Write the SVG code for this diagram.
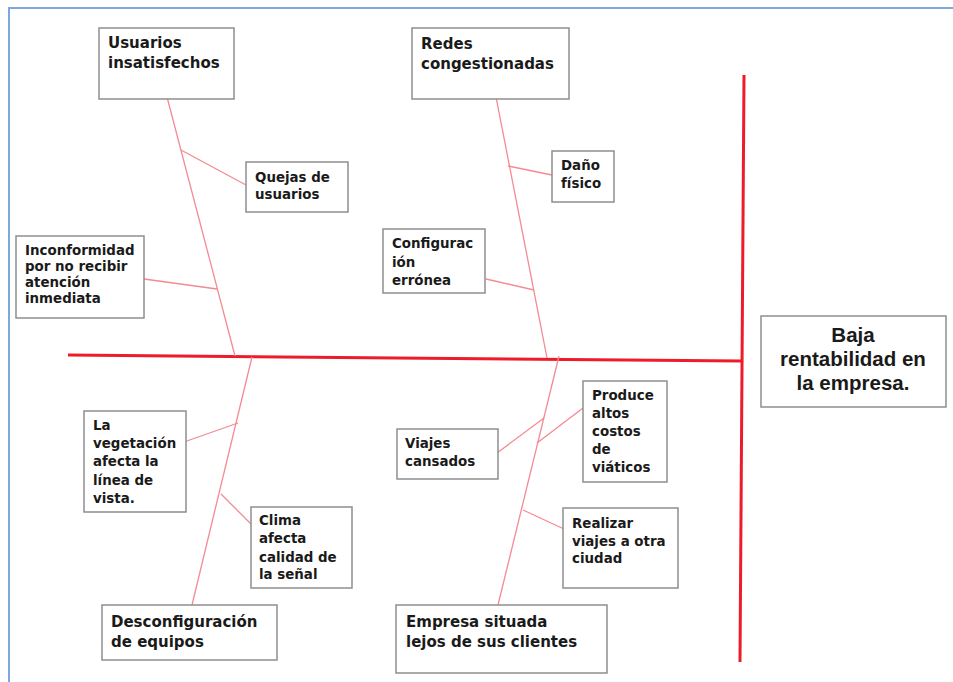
<svg xmlns="http://www.w3.org/2000/svg" width="953" height="682" viewBox="0 0 953 682">
  <style>
    .box { fill: #ffffff; stroke: #8e8e8e; stroke-width: 1.5; }
    .head { font-family: "DejaVu Sans", "Liberation Sans", sans-serif; font-weight: bold; font-size: 15px; fill: #1a1a1a; }
    .small { font-family: "DejaVu Sans", "Liberation Sans", sans-serif; font-weight: bold; font-size: 13.4px; fill: #1a1a1a; }
    .effect { font-family: "Liberation Sans", Arial, sans-serif; font-weight: bold; font-size: 20.5px; fill: #1a1a1a; }
    .spine { stroke: #ee1c2a; stroke-width: 3; fill: none; stroke-linecap: butt; }
    .bone { stroke: #f48a92; stroke-width: 1.3; fill: none; }
    .frame { stroke: #7aa8e2; stroke-width: 2; fill: none; }
  </style>

  <rect x="0" y="0" width="953" height="682" fill="#ffffff"/>

  <!-- page frame -->
  <path class="frame" d="M9,682 V8 H953"/>

  <!-- connectors: spine, head bar, bones and twigs -->
  <g id="connectors">
    <line class="spine" x1="68" y1="355" x2="742" y2="361"/>
    <line class="spine" x1="744" y1="75" x2="740" y2="662"/>

    <line class="bone" x1="167" y1="97" x2="235" y2="356"/>
    <line class="bone" x1="181" y1="150" x2="246" y2="185"/>
    <line class="bone" x1="144" y1="279" x2="217" y2="289"/>

    <line class="bone" x1="496" y1="97" x2="547" y2="358"/>
    <line class="bone" x1="508" y1="166" x2="552" y2="175"/>
    <line class="bone" x1="486" y1="279" x2="534" y2="290"/>

    <line class="bone" x1="252" y1="357" x2="192" y2="605"/>
    <line class="bone" x1="184" y1="442" x2="238" y2="423"/>
    <line class="bone" x1="221" y1="494" x2="251" y2="524"/>

    <line class="bone" x1="559" y1="356" x2="498" y2="605"/>
    <line class="bone" x1="497" y1="453" x2="544" y2="418"/>
    <line class="bone" x1="583" y1="408" x2="537" y2="443"/>
    <line class="bone" x1="523" y1="510" x2="564" y2="529"/>
  </g>

  <g id="usuarios-insatisfechos">
    <rect class="box" x="99" y="28" width="135" height="71"/>
    <text class="head" x="108" y="48">Usuarios</text>
    <text class="head" x="108" y="68">insatisfechos</text>
  </g>

  <g id="quejas-de-usuarios">
    <rect class="box" x="246" y="162" width="102" height="50"/>
    <text class="small" x="255" y="182">Quejas de</text>
    <text class="small" x="255" y="199">usuarios</text>
  </g>

  <g id="inconformidad">
    <rect class="box" x="16" y="236" width="128" height="82"/>
    <text class="small" x="25" y="255">Inconformidad</text>
    <text class="small" x="25" y="271">por no recibir</text>
    <text class="small" x="25" y="287">atención</text>
    <text class="small" x="25" y="303">inmediata</text>
  </g>

  <g id="redes-congestionadas">
    <rect class="box" x="412" y="28" width="157" height="71"/>
    <text class="head" x="421" y="49">Redes</text>
    <text class="head" x="421" y="69">congestionadas</text>
  </g>

  <g id="dano-fisico">
    <rect class="box" x="552" y="151" width="62" height="51"/>
    <text class="small" x="561" y="170">Daño</text>
    <text class="small" x="561" y="188">físico</text>
  </g>

  <g id="configuracion-erronea">
    <rect class="box" x="383" y="229" width="102" height="64"/>
    <text class="small" x="392" y="248">Configurac</text>
    <text class="small" x="392" y="267">ión</text>
    <text class="small" x="392" y="285">errónea</text>
  </g>

  <g id="vegetacion">
    <rect class="box" x="84" y="411" width="102" height="101"/>
    <text class="small" x="93" y="430">La</text>
    <text class="small" x="93" y="448">vegetación</text>
    <text class="small" x="93" y="466">afecta la</text>
    <text class="small" x="93" y="485">línea de</text>
    <text class="small" x="93" y="503">vista.</text>
  </g>

  <g id="clima">
    <rect class="box" x="251" y="507" width="101" height="81"/>
    <text class="small" x="259" y="525">Clima</text>
    <text class="small" x="259" y="543">afecta</text>
    <text class="small" x="259" y="562">calidad de</text>
    <text class="small" x="259" y="579">la señal</text>
  </g>

  <g id="desconfiguracion-de-equipos">
    <rect class="box" x="102" y="605" width="175" height="55"/>
    <text class="head" x="111" y="627">Desconfiguración</text>
    <text class="head" x="111" y="647">de equipos</text>
  </g>

  <g id="viajes-cansados">
    <rect class="box" x="397" y="429" width="101" height="50"/>
    <text class="small" x="405" y="448">Viajes</text>
    <text class="small" x="405" y="466">cansados</text>
  </g>

  <g id="altos-costos">
    <rect class="box" x="583" y="381" width="84" height="101"/>
    <text class="small" x="592" y="400">Produce</text>
    <text class="small" x="592" y="418">altos</text>
    <text class="small" x="592" y="436">costos</text>
    <text class="small" x="592" y="454">de</text>
    <text class="small" x="592" y="472">viáticos</text>
  </g>

  <g id="viajes-otra-ciudad">
    <rect class="box" x="563" y="508" width="115" height="80"/>
    <text class="small" x="572" y="528">Realizar</text>
    <text class="small" x="572" y="546">viajes a otra</text>
    <text class="small" x="572" y="563">ciudad</text>
  </g>

  <g id="empresa-lejos">
    <rect class="box" x="396" y="605" width="211" height="68"/>
    <text class="head" x="406" y="627">Empresa situada</text>
    <text class="head" x="406" y="647">lejos de sus clientes</text>
  </g>

  <g id="baja-rentabilidad">
    <rect class="box" x="761" y="316" width="185" height="91"/>
    <text class="effect" x="853" y="342" text-anchor="middle">Baja</text>
    <text class="effect" x="853" y="366" text-anchor="middle">rentabilidad en</text>
    <text class="effect" x="853" y="390" text-anchor="middle">la empresa.</text>
  </g>
</svg>
